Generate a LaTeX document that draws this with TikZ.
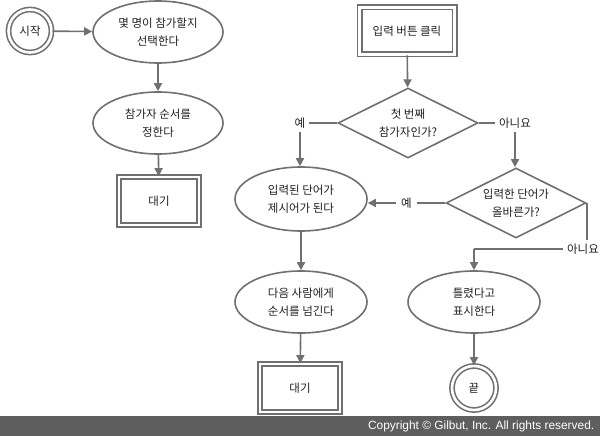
\documentclass[tikz,border=0pt]{standalone}
\usepackage{fontspec}
\setmainfont{Noto Sans CJK KR}
\newfontfamily\copyfont{Liberation Sans}
\usetikzlibrary{shapes.geometric,arrows.meta}
\definecolor{linegray}{HTML}{707070}
\definecolor{bargray}{HTML}{5E5E5E}
\definecolor{textgray}{HTML}{202020}

\begin{document}
\begin{tikzpicture}[x=1pt,y=-1pt,
  line width=1.6pt,
  arr/.style={draw=linegray,-{Triangle[length=8pt,width=8pt]}},
  conn/.style={draw=linegray},
  oval/.style={ellipse,draw=linegray,fill=white,minimum width=130pt,minimum height=62pt,align=center},
  cond/.style={diamond,draw=linegray,fill=white,aspect=2,minimum width=140pt,minimum height=70pt,align=center},
  waitbox/.style={rectangle,draw=linegray,double,double distance=2.8pt,minimum width=80pt,minimum height=48pt},
  term/.style={circle,draw=linegray,double,double distance=2.6pt,minimum size=43pt},
  answer/.style={inner sep=3pt,fill=white}]
\tikzstyle{every node}+=[inner sep=0pt,text=textgray,font=\fontsize{11.5}{18}\selectfont]
\useasboundingbox (0,0) rectangle (600,436);
% left column
\node [term] (start) at (30,31) {시작};
\node [oval] (howmany) at (158,32) {몇 명이 참가할지\\선택한다};
\node [oval] (order) at (158,123) {참가자 순서를\\정한다};
\node [waitbox] (waitA) at (159,201) {대기};
\draw [arr] (start) -- (howmany);
\draw [arr] (howmany) -- (order);
\draw [arr] (order) -- (waitA);
% right part
\node [waitbox,minimum width=95pt,minimum height=47pt] (click) at (407,31) {입력 버튼 클릭};
\node [cond] (first) at (408,123) {첫 번째\\참가자인가?};
\node [answer] (yesA) at (300,123) {예};
\node [answer] (noA) at (515,123) {아니요};
\node [oval,minimum width=132pt,minimum height=64pt] (given) at (301,199) {입력된 단어가\\제시어가 된다};
\node [cond] (right) at (516,203) {입력한 단어가\\올바른가?};
\node [answer] (noB) at (583,249) {아니요};
\coordinate (turn) at (474,249);
\node [oval,minimum width=132pt] (next) at (301,302) {다음 사람에게\\순서를 넘긴다};
\node [oval,minimum width=132pt] (wrong) at (474,302) {틀렸다고\\표시한다};
\node [waitbox] (waitB) at (300,388) {대기};
\node [term,minimum size=44pt] (stop) at (474,388) {끝};
\draw [arr] (click) -- (first);
\draw [conn] (first.west) -- (yesA.east);
\draw [arr] (yesA.south) -- (given.north -| yesA.south);
\draw [conn] (first.east) -- (noA.west);
\draw [arr] (noA.south) -- (right.north -| noA.south);
\draw [arr] (right.west) -- node [answer,inner xsep=5pt] {예} (given.east |- right.west);
\draw [conn] (right.east) -- (noB.north -| right.east);
\draw [conn] (noB.west) -- (turn);
\draw [arr] (turn) -- (wrong.north);
\draw [arr] (given) -- (next);
\draw [arr] (next) -- (waitB);
\draw [arr] (wrong) -- (stop);
% copyright bar
\fill [bargray] (0,416) rectangle (600,436);
\node [anchor=east,text=white,font=\copyfont\fontsize{11.9}{13}\selectfont] (copy) at (595,426.5) {Copyright © Gilbut, Inc. All rights reserved.};
\end{tikzpicture}
\end{document}
